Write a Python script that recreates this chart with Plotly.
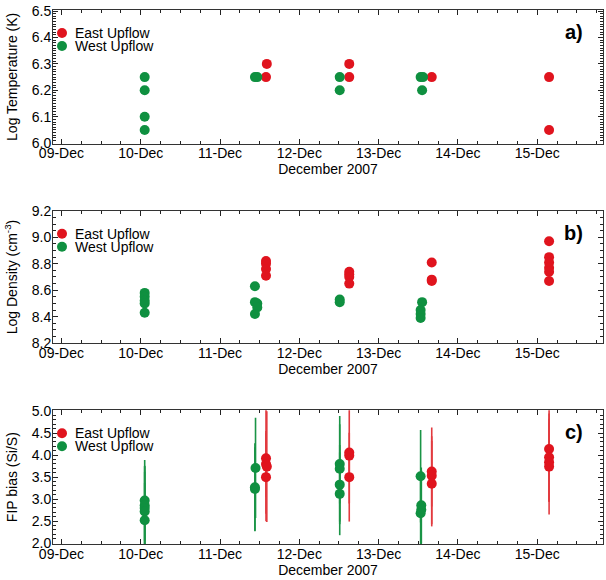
import plotly.graph_objects as go

# ---------------- data ----------------
# Panel a) Log Temperature (K)
east_temp_time = ["2007-12-11 13:55", "2007-12-11 14:10", "2007-12-12 15:07", "2007-12-12 15:07",
                  "2007-12-13 16:05", "2007-12-15 03:36", "2007-12-15 03:36"]
east_temp = [6.25, 6.30, 6.25, 6.30, 6.25, 6.25, 6.05]
west_temp_time = ["2007-12-10 01:12", "2007-12-10 01:12", "2007-12-10 01:12", "2007-12-10 01:12",
                  "2007-12-11 10:34", "2007-12-11 11:17", "2007-12-12 12:14", "2007-12-12 12:14",
                  "2007-12-13 12:43", "2007-12-13 13:26", "2007-12-13 13:10"]
west_temp = [6.25, 6.20, 6.10, 6.05, 6.25, 6.25, 6.25, 6.20, 6.25, 6.25, 6.20]

# Panel b) Log Density (cm^-3)
east_dens_time = ["2007-12-11 13:55"] * 4 + ["2007-12-12 15:07"] * 4 + ["2007-12-13 16:05"] * 3 + \
                 ["2007-12-15 03:36"] * 6
east_dens = [8.82, 8.80, 8.76, 8.71,
             8.74, 8.72, 8.70, 8.65,
             8.81, 8.68, 8.67,
             8.97, 8.85, 8.81, 8.77, 8.74, 8.67]
west_dens_time = ["2007-12-10 01:12"] * 5 + \
                 ["2007-12-11 10:34", "2007-12-11 10:34", "2007-12-11 11:17", "2007-12-11 11:17", "2007-12-11 10:34"] + \
                 ["2007-12-12 12:14"] * 2 + \
                 ["2007-12-13 13:10", "2007-12-13 12:43", "2007-12-13 12:43", "2007-12-13 12:43"]
west_dens = [8.58, 8.55, 8.52, 8.50, 8.43,
             8.63, 8.51, 8.50, 8.47, 8.42,
             8.53, 8.51,
             8.51, 8.45, 8.42, 8.39]

# Panel c) FIP bias (Si/S) with uncertainties
east_fip_time = ["2007-12-11 13:55", "2007-12-11 13:55", "2007-12-11 14:10", "2007-12-11 13:55",
                 "2007-12-12 15:07", "2007-12-12 15:07", "2007-12-12 15:07",
                 "2007-12-13 16:05", "2007-12-13 16:05", "2007-12-13 16:05",
                 "2007-12-15 03:36", "2007-12-15 03:36", "2007-12-15 03:36", "2007-12-15 03:36"]
east_fip = [3.93, 3.80, 3.74, 3.50,
            4.06, 3.99, 3.50,
            3.63, 3.53, 3.35,
            4.14, 3.95, 3.84, 3.74]
east_fip_err = [1.26, 0.75, 1.26, 1.00,
                0.45, 1.50, 0.60,
                0.80, 1.10, 0.97,
                1.20, 1.00, 0.90, 1.09]
west_fip_time = ["2007-12-10 01:12", "2007-12-10 01:12", "2007-12-10 01:12", "2007-12-10 01:12", "2007-12-10 01:12",
                 "2007-12-11 10:45", "2007-12-11 10:34", "2007-12-11 10:34",
                 "2007-12-12 12:14", "2007-12-12 12:14", "2007-12-12 12:14", "2007-12-12 12:14",
                 "2007-12-13 12:43", "2007-12-13 12:55", "2007-12-13 12:55", "2007-12-13 12:43"]
west_fip = [2.97, 2.86, 2.80, 2.72, 2.52,
            3.71, 3.27, 3.23,
            3.80, 3.69, 3.33, 3.12,
            3.52, 2.86, 2.76, 2.68]
west_fip_err = [0.92, 0.90, 0.95, 0.90, 0.85,
                1.14, 1.00, 0.95,
                0.90, 1.20, 0.90, 0.94,
                1.05, 0.86, 0.90, 0.90]

series_names = ["East Upflow", "West Upflow"]
panel_labels = ["a)", "b)", "c)"]
y_titles = ["Log Temperature (K)", "Log Density (cm<sup>-3</sup>)", "FIP bias (Si/S)"]
x_title = "December 2007"

# ---------------- style ----------------
RED = "#E0141E"
GREEN = "#0F9040"
RED_BAR = "#E23A3F"
GREEN_BAR = "#1A9446"
FONT = "Liberation Sans, Arial, Helvetica, sans-serif"
MS = 10

fig = go.Figure()

# Panel a
fig.add_trace(go.Scatter(x=east_temp_time, y=east_temp, mode="markers", name=series_names[0],
                         marker=dict(color=RED, size=MS), xaxis="x", yaxis="y", showlegend=False))
fig.add_trace(go.Scatter(x=west_temp_time, y=west_temp, mode="markers", name=series_names[1],
                         marker=dict(color=GREEN, size=MS), xaxis="x", yaxis="y", showlegend=False))
# Panel b
fig.add_trace(go.Scatter(x=east_dens_time, y=east_dens, mode="markers", name=series_names[0],
                         marker=dict(color=RED, size=MS), xaxis="x2", yaxis="y2", showlegend=False))
fig.add_trace(go.Scatter(x=west_dens_time, y=west_dens, mode="markers", name=series_names[1],
                         marker=dict(color=GREEN, size=MS), xaxis="x2", yaxis="y2", showlegend=False))
# Panel c
fig.add_trace(go.Scatter(x=west_fip_time, y=west_fip, mode="markers", name=series_names[1],
                         marker=dict(color=GREEN, size=MS),
                         error_y=dict(type="data", array=west_fip_err, color=GREEN_BAR, thickness=1.6, width=0),
                         xaxis="x3", yaxis="y3", showlegend=False))
fig.add_trace(go.Scatter(x=east_fip_time, y=east_fip, mode="markers", name=series_names[0],
                         marker=dict(color=RED, size=MS),
                         error_y=dict(type="data", array=east_fip_err, color=RED_BAR, thickness=1.6, width=0),
                         xaxis="x3", yaxis="y3", showlegend=False))

x_range = ["2007-12-08 21:27", "2007-12-15 19:55"]
xcommon = dict(range=x_range, type="date", dtick=86400000, tick0="2007-12-09", tickformat="%d-%b",
               ticks="inside", ticklen=5, tickcolor="#222", showline=True, linecolor="#333", linewidth=1,
               mirror="ticks", showgrid=False, zeroline=False, ticklabelstandoff=-3,
               minor=dict(dtick=21600000, ticks="inside", ticklen=3, tickcolor="#222", showgrid=False),
               tickfont=dict(family=FONT, size=14, color="black"),
               title=dict(text=x_title, font=dict(family=FONT, size=14, color="black"), standoff=0))
ycommon = dict(ticks="inside", ticklen=5, tickcolor="#222", showline=True, linecolor="#333", linewidth=1,
               mirror="ticks", showgrid=False, zeroline=False, tickformat=".1f", ticklabelstandoff=-2,
               tickfont=dict(family=FONT, size=14, color="black"))

paper_h = 580 - 6 - 36
def dom(top_px, bot_px):
    return [(544 - bot_px) / paper_h, (544 - top_px) / paper_h]

fig.update_layout(
    width=606, height=580,
    margin=dict(l=53, r=2, t=6, b=36),
    paper_bgcolor="white", plot_bgcolor="white",
    font=dict(family=FONT, size=14, color="black"),
    xaxis=dict(xcommon, anchor="y"),
    xaxis2=dict(xcommon, anchor="y2"),
    xaxis3=dict(xcommon, anchor="y3"),
    yaxis=dict(ycommon, domain=dom(6, 140.7), range=[5.998, 6.504], dtick=0.1, anchor="x",
               minor=dict(dtick=0.01, ticks="inside", ticklen=3, tickcolor="#222"),
               title=dict(text=y_titles[0], standoff=10, font=dict(family=FONT, size=14))),
    yaxis2=dict(ycommon, domain=dom(208.3, 341.7), range=[8.2, 9.2], dtick=0.2, anchor="x2",
                minor=dict(dtick=0.05, ticks="inside", ticklen=3, tickcolor="#222"),
                title=dict(text=y_titles[1], standoff=10, font=dict(family=FONT, size=14))),
    yaxis3=dict(ycommon, domain=dom(409.3, 544), range=[1.98, 5.02], dtick=0.5, anchor="x3",
                minor=dict(dtick=0.1, ticks="inside", ticklen=3, tickcolor="#222"),
                title=dict(text=y_titles[2], standoff=10, font=dict(family=FONT, size=14))),
    showlegend=False,
)

# legend keys and panel labels
annotations = []
shapes = []
for i, sfx in enumerate(["", "2", "3"]):
    xr = "x%s domain" % sfx
    yr = "y%s domain" % sfx
    for name, col, dy in [(series_names[0], RED, -23), (series_names[1], GREEN, -36)]:
        shapes.append(dict(type="circle", xref=xr, yref=yr, xsizemode="pixel", ysizemode="pixel",
                           xanchor=0, yanchor=1, x0=4, x1=14, y0=dy - 5, y1=dy + 5,
                           fillcolor=col, line=dict(width=0)))
        annotations.append(dict(text=name, xref=xr, yref=yr, x=0, y=1, xanchor="left", yanchor="middle",
                                xshift=20, yshift=dy, showarrow=False,
                                font=dict(family=FONT, size=14, color="black")))
    annotations.append(dict(text="<b>%s</b>" % panel_labels[i], xref=xr, yref=yr, x=1, y=1,
                            xanchor="right", yanchor="middle", xshift=-18, yshift=-22, showarrow=False,
                            font=dict(family=FONT, size=20, color="black")))
fig.update_layout(annotations=annotations, shapes=shapes)

fig.write_html("out.html", config={"displayModeBar": False},
               post_script="document.body.style.margin='0';document.body.style.overflow='hidden';")
